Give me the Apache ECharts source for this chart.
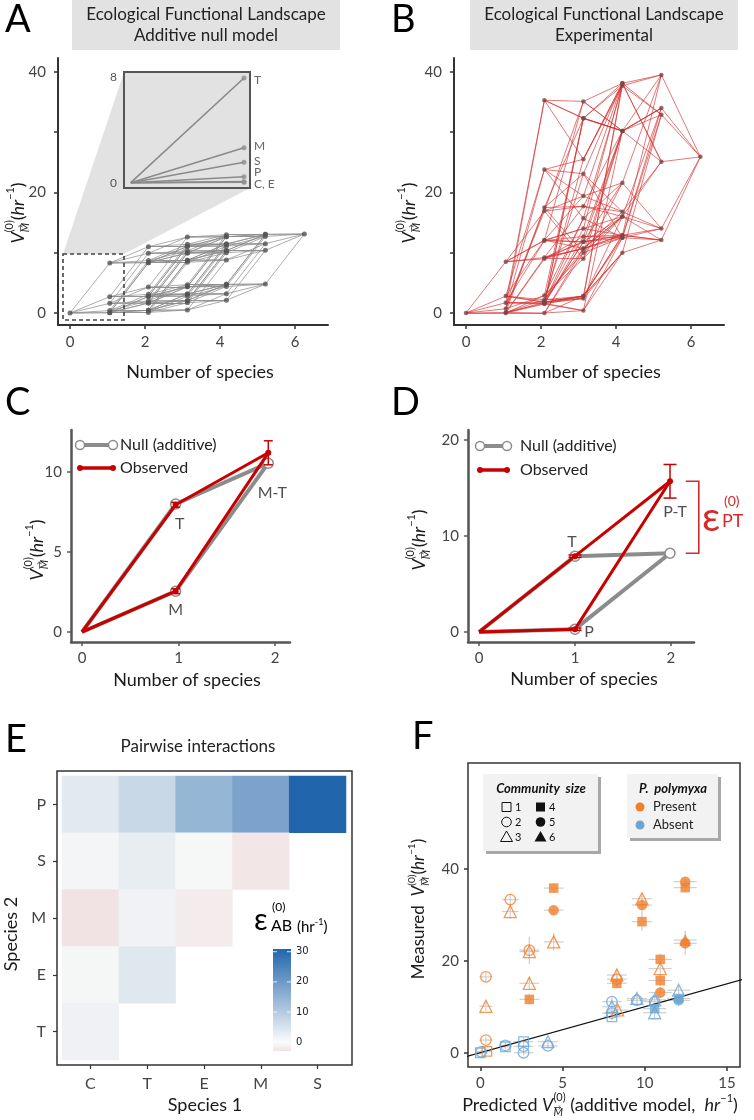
<!DOCTYPE html>
<html><head><meta charset="utf-8">
<script src="https://cdn.jsdelivr.net/npm/echarts@6/dist/echarts.min.js"></script>
<style>html,body{margin:0;padding:0;background:#fff}#c{width:754px;height:1120px}</style>
</head><body><div id="c"></div><script>
const FONT = 'Lato, "DejaVu Sans", sans-serif';
const RED = '#c80000', GRAY = '#8c8c8c', ORANGE = '#f07f2a', BLUE = '#6ca6d6';

// ---------- Panels A & B: functional landscape (community index = bitmask C1 E2 M4 P8 S16 T32)
const speciesBits = ['C', 'E', 'M', 'P', 'S', 'T'];
const xPosBySize = [0, 1.06, 2.09, 3.13, 4.17, 5.21, 6.25];
const nullValues = [0,0.05,0.05,0.1,2.7,2.75,2.75,2.8,0.4,0.45,0.45,0.5,3.1,3.15,3.15,3.2,
  1.6,1.65,1.65,1.7,4.3,4.35,4.35,4.4,2.0,2.05,2.05,2.1,4.7,4.75,4.75,4.8,
  8.3,8.35,8.35,8.4,11.0,11.05,11.05,11.1,8.7,8.75,8.75,8.8,11.4,11.45,11.45,11.5,
  9.9,9.95,9.95,10.0,12.6,12.65,12.65,12.7,10.3,10.35,10.35,10.4,13.0,13.05,13.05,13.1];
const obsValues = [0,0.0,0.1,0.0,2.8,1.8,2.2,2.8,0.7,2.9,17.5,10.0,23.8,15.7,23.1,12.5,
  1.7,1.5,1.6,0.4,1.8,2.8,2.4,10.0,35.3,32.3,32.3,30.2,25.5,37.7,38.1,32.9,
  8.5,9.0,9.2,10.7,12.1,11.8,10.7,12.9,16.9,9.0,17.7,16.0,19.4,21.6,16.8,14.0,
  12.0,12.7,11.8,12.5,14.0,12.9,16.0,12.1,35.1,30.2,30.2,34.0,38.1,39.5,25.1,25.9];
const aXTicks = [0, 2, 4, 6];
const aYTicks = [0, 10, 20, 30, 40];
const aYLabels = [0, 20, 40];
// inset (monocultures)
const insetSpecies = ['T', 'M', 'S', 'P', 'C', 'E'];
const insetValues = [7.9, 2.64, 1.54, 0.45, 0.08, 0.04];
const insetTicks = [0, 8];

// ---------- Panel C
const cNames = ['', 'T', 'M-T', 'M', ''];
const cX = [0, 0.97, 1.93, 0.97, 0];
const cNullY = [0, 8.0, 10.55, 2.55, 0];
const cObsY = [0, 7.95, 11.2, 2.55, 0];
const cObsErr = [0, 0.15, 0.75, 0.15, 0];
const cXTicks = [0, 1, 2], cYTicks = [0, 5, 10];
// ---------- Panel D
const dNames = ['', 'T', 'P-T', 'P', ''];
const dX = [0, 1.0, 1.99, 1.0, 0];
const dNullY = [0, 7.9, 8.2, 0.3, 0];
const dObsY = [0, 7.9, 15.7, 0.3, 0];
const dObsErr = [0, 0.12, 1.75, 0.12, 0];
const dXTicks = [0, 1, 2], dYTicks = [0, 10, 20];
const dEpsilon = [8.2, 15.7];
// ---------- Panel E
const heatCols = ['C', 'T', 'E', 'M', 'S'];
const heatRows = ['T', 'E', 'M', 'S', 'P'];
const heatCells = [
  ['C','P',2.9],['T','P',6.7],['E','P',14.0],['M','P',18.0],['S','P',31.5],
  ['C','S',0.4],['T','S',2.2],['E','S',0.1],['M','S',-2.4],
  ['C','M',-2.9],['T','M',1.0],['E','M',-1.7],
  ['C','E',0.3],['T','E',3.3],
  ['C','T',1.2]];
const colorbarTicks = [0, 10, 20, 30];
// ---------- Panel F
const fPredicted = [0.4,0.34,0.34,0.34,1.82,1.82,2.98,2.98,2.98,2.98,4.46,4.46,4.46,8.3,8.3,8.35,8.3,9.83,9.83,9.83,10.94,10.94,10.94,10.94,12.46,12.46,12.46,12.46,
  0.0,0.05,1.52,1.52,2.63,2.63,2.63,4.11,4.11,8.0,8.0,8.0,8.0,9.52,9.52,10.6,10.6,10.6,10.6,12.06,12.06,12.06];
const fMeasured = [0.3,16.5,2.75,10.1,33.3,30.7,22.3,22.0,15.1,11.6,35.8,31.0,24.1,16.9,15.1,9.3,16.0,33.5,32.1,28.5,20.3,18.3,15.7,13.1,37.2,35.9,24.5,23.8,
  0.0,0.2,1.3,1.6,2.4,1.4,0.0,1.5,2.4,11.1,10.0,7.8,8.6,11.8,11.4,11.1,11.5,8.7,9.6,13.6,11.4,11.8];
const fSize = [1,2,2,3,2,3,2,3,3,4,4,5,3,3,4,3,2,3,5,4,4,3,4,5,5,4,6,5,
  1,2,1,2,1,2,2,2,3,2,3,1,2,3,2,2,3,3,4,3,5,4];
const fHasP = [1,1,1,1,1,1,1,1,1,1,1,1,1,1,1,1,1,1,1,1,1,1,1,1,1,1,1,1,
  0,0,0,0,0,0,0,0,0,0,0,0,0,0,0,0,0,0,0,0,0,0];
const fErrX = [0.3,0.4,0.4,0.4,0.5,0.5,0.6,0.6,0.6,0.6,0.6,0.6,0.6,0.6,0.6,0.6,0.6,0.6,0.6,0.6,0.7,0.7,0.7,0.7,0.7,0.7,0.7,0.7,
  0.3,0.3,0.4,0.4,0.6,0.6,0.6,0.6,0.6,0.6,0.6,0.5,0.6,0.6,0.6,0.7,0.7,0.7,0.7,0.7,0.7,0.7];
const fErrY = [0.6,1.0,0.8,1.0,1.2,1.5,3.0,1.5,1.2,1.2,1.0,1.0,2.0,1.2,1.2,1.0,1.2,1.2,2.0,2.0,1.2,2.0,1.2,1.2,1.0,1.0,2.0,2.5,
  0.4,0.4,0.6,0.6,0.8,0.8,0.6,0.6,0.6,1.0,1.5,0.8,1.0,1.0,1.0,1.0,1.0,1.2,1.2,1.0,1.2,1.0];
const fXTicks = [0, 5, 10, 15], fYTicks = [0, 20, 40];
const identityLine = [[-1, -1], [17, 17]];

// ---------- helpers
function popcount(i){ let c = 0; while (i) { c += i & 1; i >>= 1; } return c; }
function edges(vals){
  const out = [];
  for (let i = 0; i < 64; i++) for (let b = 0; b < speciesBits.length; b++) {
    if (!(i & (1 << b))) { const j = i | (1 << b);
      out.push({ coords: [[xPosBySize[popcount(i)], vals[i]], [xPosBySize[popcount(j)], vals[j]]] }); }
  }
  return out;
}
function nodes(vals){ return vals.map((v, i) => [xPosBySize[popcount(i)], v]); }
const mctx = document.createElement('canvas').getContext('2d');
function fontStr(s, it, b){ return (it ? 'italic ' : '') + (b ? 'bold ' : '') + s + 'px ' + FONT; }
function tw(t, s, it, b){ mctx.font = fontStr(s, it, b); return mctx.measureText(t).width; }
function txt(t, x, y, s, o){
  o = o || {};
  return { type: 'text', x, y, z: 20, rotation: o.rot || 0, style: { text: t, font: fontStr(s, o.it, o.b), fill: o.color || '#1a1a1a',
    textAlign: o.align || 'left', align: o.align || 'left', textVerticalAlign: 'middle', verticalAlign: 'middle' } };
}
function mathGroup(parts, x, y, rot, color, anchor){
  let cx = 0, stackW = 0; const kids = [];
  parts.forEach(p => {
    const [t, s, it, dy, stack] = p;
    const w = tw(t, s, it);
    kids.push({ type: 'text', x: cx, y: dy, style: { text: t, font: fontStr(s, it), fill: color,
      textAlign: 'left', align: 'left', textVerticalAlign: 'middle', verticalAlign: 'middle' } });
    if (stack) stackW = Math.max(stackW, w); else { cx += Math.max(w, stackW); stackW = 0; }
  });
  const off = anchor === 'center' ? -cx / 2 : (anchor === 'right' ? -cx : 0);
  kids.forEach(k => { k.x += off; });
  return { type: 'group', x, y, rotation: rot || 0, children: kids, z: 20 };
}
function vParts(s){
  return [['V', s, true, 0], ['(0)', s * 0.6, false, -s * 0.45, true], ['\u2192', s * 0.45, false, s * 0.12, true],
          ['M', s * 0.6, true, s * 0.42], ['(', s, false, 0], ['hr', s, true, 0], ['\u22121', s * 0.6, false, -s * 0.42], [')', s, false, 0]];
}
function valAxis(gi, min, max, ticks, labels, o){
  o = o || {};
  const lc = o.lc || '#333';
  return { gridIndex: gi, type: 'value', min, max,
    axisLine: { show: o.line !== false, onZero: false, lineStyle: { color: lc, width: o.lw || 2 } },
    axisTick: { show: true, customValues: ticks, length: 4, lineStyle: { color: lc, width: 1.5 } },
    axisLabel: { show: true, customValues: labels, margin: o.margin || 10, fontSize: o.fs || 15, color: '#444', fontFamily: FONT },
    splitLine: { show: false } };
}
function errBar(color, half, lw){
  return function(params, api){
    const x = api.value(0), y = api.value(1), e = api.value(2);
    if (!e) return null;
    const t = api.coord([x, y + e]), b = api.coord([x, y - e]);
    const st = { stroke: color, lineWidth: lw };
    return { type: 'group', children: [
      { type: 'line', shape: { x1: t[0], y1: t[1], x2: b[0], y2: b[1] }, style: st },
      { type: 'line', shape: { x1: t[0] - half, y1: t[1], x2: t[0] + half, y2: t[1] }, style: st },
      { type: 'line', shape: { x1: b[0] - half, y1: b[1], x2: b[0] + half, y2: b[1] }, style: st } ] };
  };
}
function pathData(xs, ys, names, symOpt){
  return xs.map((x, i) => names[i] ? Object.assign({ value: [x, ys[i]] }, symOpt) : { value: [x, ys[i]], symbol: 'none' });
}
function labelData(xs, ys, names, offsets){
  const out = [];
  names.forEach((n, i) => { if (n) out.push({ value: [xs[i], ys[i]], name: n, label: { offset: offsets[n] } }); });
  return out;
}

// ---------- series
const series = [];
// A
series.push({ type: 'lines', coordinateSystem: 'cartesian2d', xAxisIndex: 0, yAxisIndex: 0, silent: true,
  data: edges(nullValues), lineStyle: { color: '#8a8a8a', width: 1, opacity: 0.7 }, z: 2 });
series.push({ type: 'scatter', xAxisIndex: 0, yAxisIndex: 0, data: nodes(nullValues), symbolSize: 5,
  itemStyle: { color: '#555' }, z: 3 });
// A inset
series.push({ type: 'lines', coordinateSystem: 'cartesian2d', xAxisIndex: 1, yAxisIndex: 1, silent: true,
  data: insetValues.map(v => ({ coords: [[0, 0], [1, v]] })), lineStyle: { color: '#8a8a8a', width: 1.6, opacity: 1 }, z: 4 });
series.push({ type: 'scatter', xAxisIndex: 1, yAxisIndex: 1, data: insetValues.map(v => [1, v]), symbolSize: 5,
  itemStyle: { color: '#8f8f8f' }, z: 5 });
// B
series.push({ type: 'lines', coordinateSystem: 'cartesian2d', xAxisIndex: 2, yAxisIndex: 2, silent: true,
  data: edges(obsValues), lineStyle: { color: '#d63030', width: 1, opacity: 0.65 }, z: 2 });
series.push({ type: 'scatter', xAxisIndex: 2, yAxisIndex: 2, data: nodes(obsValues), symbolSize: 4.5,
  itemStyle: { color: '#7b4646' }, z: 3 });
// C
series.push({ type: 'line', xAxisIndex: 3, yAxisIndex: 3, data: pathData(cX, cNullY, cNames, { symbol: 'circle', symbolSize: 10 }),
  lineStyle: { color: GRAY, width: 4 }, itemStyle: { color: '#fff', borderColor: GRAY, borderWidth: 1.5 }, z: 3 });
series.push({ type: 'line', xAxisIndex: 3, yAxisIndex: 3, data: pathData(cX, cObsY, cNames, { symbol: 'circle', symbolSize: 6 }),
  lineStyle: { color: RED, width: 3 }, itemStyle: { color: RED }, z: 4 });
series.push({ type: 'custom', xAxisIndex: 3, yAxisIndex: 3, data: cX.map((x, i) => [x, cObsY[i], cObsErr[i]]),
  renderItem: errBar(RED, 4.5, 1.5), z: 5, silent: true });
series.push({ type: 'scatter', xAxisIndex: 3, yAxisIndex: 3, symbolSize: 0, silent: true, z: 6,
  data: labelData(cX, cObsY, cNames, { 'T': [4, 19], 'M': [0, 19], 'M-T': [4, 40] }),
  label: { show: true, formatter: '{b}', fontSize: 16, color: '#222', fontFamily: FONT } });
// D
series.push({ type: 'line', xAxisIndex: 4, yAxisIndex: 4, data: pathData(dX, dNullY, dNames, { symbol: 'circle', symbolSize: 10 }),
  lineStyle: { color: GRAY, width: 4 }, itemStyle: { color: '#fff', borderColor: GRAY, borderWidth: 1.5 }, z: 3 });
series.push({ type: 'line', xAxisIndex: 4, yAxisIndex: 4, data: pathData(dX, dObsY, dNames, { symbol: 'circle', symbolSize: 6 }),
  lineStyle: { color: RED, width: 3 }, itemStyle: { color: RED }, z: 4 });
series.push({ type: 'custom', xAxisIndex: 4, yAxisIndex: 4, data: dX.map((x, i) => [x, dObsY[i], dObsErr[i]]),
  renderItem: errBar(RED, 6.5, 1.5), z: 5, silent: true });
series.push({ type: 'scatter', xAxisIndex: 4, yAxisIndex: 4, symbolSize: 0, silent: true, z: 6,
  data: labelData(dX, dObsY, dNames, { 'T': [-3, -14], 'P-T': [5, 31], 'P': [14, 3] }),
  label: { show: true, formatter: '{b}', fontSize: 16, color: '#222', fontFamily: FONT } });
series.push({ type: 'custom', xAxisIndex: 4, yAxisIndex: 4, data: [[2.29, dEpsilon[0], dEpsilon[1]]], clip: false, silent: true, z: 6,
  renderItem: function(params, api){
    const a = api.coord([api.value(0), api.value(1)]), b = api.coord([api.value(0), api.value(2)]);
    return { type: 'polyline', shape: { points: [[a[0] - 13, a[1]], [a[0], a[1]], [b[0], b[1]], [b[0] - 13, b[1]]] },
      style: { stroke: '#d42a2a', lineWidth: 1.6, fill: null } };
  } });
// E
const heatSeriesIndex = series.length;
series.push({ type: 'heatmap', xAxisIndex: 5, yAxisIndex: 5,
  data: heatCells.map(c => [heatCols.indexOf(c[0]), heatRows.indexOf(c[1]), c[2]]), itemStyle: { borderWidth: 0 } });
// F
series.push({ type: 'custom', xAxisIndex: 6, yAxisIndex: 6, silent: true, z: 2,
  data: fPredicted.map((x, i) => [x, fMeasured[i], fErrX[i], fErrY[i]]),
  renderItem: function(params, api){
    const x = api.value(0), y = api.value(1), ex = api.value(2), ey = api.value(3);
    const l = api.coord([x - ex, y]), r = api.coord([x + ex, y]), t = api.coord([x, y + ey]), b = api.coord([x, y - ey]);
    const st = { stroke: '#cfcfcf', lineWidth: 1.2 };
    return { type: 'group', children: [
      { type: 'line', shape: { x1: l[0], y1: l[1], x2: r[0], y2: r[1] }, style: st },
      { type: 'line', shape: { x1: t[0], y1: t[1], x2: b[0], y2: b[1] }, style: st } ] };
  } });
series.push({ type: 'line', xAxisIndex: 6, yAxisIndex: 6, data: identityLine, symbol: 'none', clip: true,
  lineStyle: { color: '#111', width: 1.2 }, z: 3 });
const shapeBySize = { 1: 'rect', 2: 'circle', 3: 'triangle', 4: 'rect', 5: 'circle', 6: 'triangle' };
series.push({ type: 'scatter', xAxisIndex: 6, yAxisIndex: 6, z: 4,
  data: fPredicted.map((x, i) => {
    const s = fSize[i], col = fHasP[i] ? ORANGE : BLUE, sym = shapeBySize[s];
    const size = sym === 'triangle' ? 12 : (sym === 'rect' ? 9.5 : 10.5);
    return { value: [x, fMeasured[i]], symbol: sym, symbolSize: size,
      itemStyle: s >= 4 ? { color: col } : { color: 'rgba(255,255,255,0)', borderColor: col, borderWidth: 1.3 } };
  }) });

// ---------- graphics
const G = [];
const rect = (x, y, w, h, st, z) => ({ type: 'rect', shape: { x, y, width: w, height: h }, style: st, z: z || 1 });
// panel letters
[['A', 5, 20], ['B', 391, 20], ['C', 5, 403], ['D', 391, 403], ['E', 5, 740], ['F', 412, 737]].forEach(l => G.push(txt(l[0], l[1], l[2], 38, { color: '#000' })));
// A/B titles
G.push(rect(72, 0, 268, 50, { fill: '#e2e2e2' }));
G.push(rect(470, 0, 268, 50, { fill: '#e2e2e2' }));
G.push(txt('Ecological Functional Landscape', 206, 15, 17, { align: 'center', color: '#222' }));
G.push(txt('Additive null model', 206, 36, 17, { align: 'center', color: '#222' }));
G.push(txt('Ecological Functional Landscape', 604, 15, 17, { align: 'center', color: '#222' }));
G.push(txt('Experimental', 604, 36, 17, { align: 'center', color: '#222' }));
// zoom shading + dashed box
G.push({ type: 'polygon', shape: { points: [[63, 254], [124, 72], [250, 72], [250, 188], [124, 254]] }, style: { fill: '#e2e2e2' }, z: -5 });
G.push(rect(63, 254, 61, 66, { fill: null, stroke: '#444', lineWidth: 1.6, lineDash: [4, 3] }, 6));
// inset labels
[['T', 80], ['M', 146], ['S', 161], ['P', 172], ['C, E', 184]].forEach(l => G.push(txt(l[0], 254, l[1], 12, { color: '#666' })));
// axis titles
G.push(txt('Number of species', 200, 372, 18, { align: 'center' }));
G.push(txt('Number of species', 587, 372, 18, { align: 'center' }));
G.push(txt('Number of species', 187, 680, 18, { align: 'center' }));
G.push(txt('Number of species', 584, 679, 18, { align: 'center' }));
G.push(mathGroup(vParts(18), 18, 213, Math.PI / 2, '#1a1a1a', 'center'));
G.push(mathGroup(vParts(18), 409, 213, Math.PI / 2, '#1a1a1a', 'center'));
G.push(mathGroup(vParts(18), 37, 550, Math.PI / 2, '#1a1a1a', 'center'));
G.push(mathGroup(vParts(18), 419, 540, Math.PI / 2, '#1a1a1a', 'center'));
// C / D legends
function legendCD(x1, x2, yN, yO, tx){
  G.push({ type: 'line', shape: { x1, y1: yN, x2, y2: yN }, style: { stroke: GRAY, lineWidth: 4 }, z: 10 });
  [x1, x2].forEach(x => G.push({ type: 'circle', shape: { cx: x, cy: yN, r: 4.5 }, style: { fill: '#fff', stroke: GRAY, lineWidth: 1.5 }, z: 11 }));
  G.push({ type: 'line', shape: { x1, y1: yO, x2, y2: yO }, style: { stroke: RED, lineWidth: 3.5 }, z: 10 });
  [x1, x2].forEach(x => G.push({ type: 'circle', shape: { cx: x, cy: yO, r: 3 }, style: { fill: RED }, z: 11 }));
  G.push(txt('Null (additive)', tx, yN, 16, { color: '#222' }));
  G.push(txt('Observed', tx, yO, 16, { color: '#222' }));
}
legendCD(80, 113, 445, 468, 120);
legendCD(480, 507, 446, 470, 520);
// epsilon PT
G.push(txt('\u03B5', 702, 518, 40, { color: '#d42a2a' }));
G.push(txt('(0)', 724, 501, 14, { color: '#d42a2a' }));
G.push(txt('PT', 722, 521, 18, { color: '#d42a2a' }));
// E
G.push(txt('Pairwise interactions', 198, 747, 17, { align: 'center', color: '#222' }));
G.push(rect(57, 771, 295, 294, { fill: null, stroke: '#333', lineWidth: 1.5 }, 8));
G.push(txt('Species 1', 205, 1105, 18, { align: 'center' }));
G.push(txt('Species 2', 11, 934, 18, { align: 'center', rot: Math.PI / 2 }));
const cbTop = 949, cbBot = 1051, cbMin = -2.9, cbMax = 30.9;
const cbY = v => cbBot - (v - cbMin) / (cbMax - cbMin) * (cbBot - cbTop);
G.push({ type: 'rect', shape: { x: 273, y: cbTop, width: 18, height: cbBot - cbTop }, z: 8,
  style: { fill: { type: 'linear', x: 0, y: 0, x2: 0, y2: 1, colorStops: [
    { offset: 0, color: '#2166ac' }, { offset: (cbMax - 0) / (cbMax - cbMin), color: '#fbfbfb' }, { offset: 1, color: '#f2e1e3' }] } } });
colorbarTicks.forEach(v => {
  const y = cbY(v);
  if (v > 0) {
    G.push({ type: 'line', shape: { x1: 273, y1: y, x2: 277, y2: y }, style: { stroke: 'rgba(255,255,255,0.8)', lineWidth: 1 }, z: 9 });
    G.push({ type: 'line', shape: { x1: 287, y1: y, x2: 291, y2: y }, style: { stroke: 'rgba(255,255,255,0.8)', lineWidth: 1 }, z: 9 });
  }
  G.push({ type: 'text', x: 296, y, z: 20, style: { text: String(v), font: '10px "DejaVu Sans"', fill: '#222', textVerticalAlign: 'middle', verticalAlign: 'middle' } });
});
G.push(txt('\u03B5', 254, 920, 30, { color: '#000' }));
G.push(txt('(0)', 272, 907, 12, { color: '#000' }));
G.push(txt('AB', 271, 926, 16, { color: '#000' }));
G.push(mathGroup([['(hr', 15, false, 0], ['-1', 9, false, -5], [')', 15, false, 0]], 297, 927, 0, '#000', 'left'));
// F
G.push(mathGroup([['Measured  ', 17, false, 0]].concat(vParts(17)), 419, 909, Math.PI / 2, '#1a1a1a', 'center'));
G.push(mathGroup([['Predicted ', 18, false, 0], ['V', 18, true, 0], ['(0)', 11, false, -8, true], ['\u2192', 8, false, 2, true], ['M', 11, true, 7],
  [' (additive model,  ', 18, false, 0], ['hr', 18, true, 0], ['\u22121', 11, false, -7], [')', 18, false, 0]], 600, 1105, 0, '#1a1a1a', 'center'));
// F legends
G.push(rect(486, 777, 115, 77, { fill: '#a8a8a8' }, 9));
G.push(rect(483, 774, 115, 77, { fill: '#f2f2f2' }, 10));
G.push(txt('Community  size', 541, 789, 13, { align: 'center', it: true, b: true, color: '#111' }));
const legSym = (shape, filled, cx, cy) => {
  const st = filled ? { fill: '#111' } : { fill: null, stroke: '#111', lineWidth: 1 };
  if (shape === 'rect') return { type: 'rect', shape: { x: cx - 4.5, y: cy - 4.5, width: 9, height: 9 }, style: st, z: 11 };
  if (shape === 'circle') return { type: 'circle', shape: { cx, cy, r: 4.8 }, style: st, z: 11 };
  return { type: 'polygon', shape: { points: [[cx, cy - 6], [cx + 6, cy + 4.5], [cx - 6, cy + 4.5]] }, style: st, z: 11 };
};
[[1, 'rect', 807], [2, 'circle', 822], [3, 'triangle', 837]].forEach(r => {
  G.push(legSym(r[1], false, 506.5, r[2])); G.push(txt(String(r[0]), 515, r[2], 11, { color: '#111' }));
  G.push(legSym(r[1], true, 540.5, r[2])); G.push(txt(String(r[0] + 3), 549, r[2], 11, { color: '#111' }));
});
G.push(rect(630, 777, 91, 64, { fill: '#a8a8a8' }, 9));
G.push(rect(627, 774, 91, 64, { fill: '#f2f2f2' }, 10));
G.push(txt('P.  polymyxa', 673, 789, 13, { align: 'center', it: true, b: true, color: '#111' }));
G.push({ type: 'circle', shape: { cx: 640, cy: 807, r: 4.5 }, style: { fill: ORANGE }, z: 11 });
G.push({ type: 'circle', shape: { cx: 640, cy: 825, r: 4.5 }, style: { fill: BLUE }, z: 11 });
G.push(txt('Present', 653, 807, 13, { color: '#222' }));
G.push(txt('Absent', 653, 825, 13, { color: '#222' }));

const catAxis = (data) => ({ gridIndex: 5, type: 'category', data, offset: 5,
  axisLine: { show: false }, axisTick: { show: true, alignWithLabel: true, length: 4, lineStyle: { color: '#333', width: 1.2 } },
  axisLabel: { fontSize: 16, color: '#444', margin: 11, fontFamily: FONT }, splitLine: { show: false } });

const option = {
  animation: false,
  backgroundColor: '#fff',
  textStyle: { fontFamily: FONT },
  grid: [
    { left: 58, top: 58, width: 270, height: 267, outerBoundsMode: 'none' },
    { left: 124, top: 72, width: 126, height: 116, show: true, backgroundColor: '#e2e2e2', borderColor: '#555', borderWidth: 2, z: 1, outerBoundsMode: 'none' },
    { left: 454, top: 58, width: 270, height: 267, outerBoundsMode: 'none' },
    { left: 71, top: 430, width: 219, height: 212, outerBoundsMode: 'none' },
    { left: 468, top: 430, width: 226, height: 212, outerBoundsMode: 'none' },
    { left: 62, top: 776, width: 284, height: 284, outerBoundsMode: 'none' },
    { left: 468, top: 763, width: 272, height: 304, show: true, borderColor: '#333', borderWidth: 1.5, outerBoundsMode: 'none' }
  ],
  xAxis: [
    valAxis(0, -0.32, 6.88, aXTicks, aXTicks),
    { gridIndex: 1, type: 'value', min: -0.06, max: 1.053, show: false },
    valAxis(2, -0.32, 6.88, aXTicks, aXTicks),
    valAxis(3, -0.114, 2.155, cXTicks, cXTicks, { lc: '#555', lw: 2.5, margin: 9 }),
    valAxis(4, -0.115, 2.24, dXTicks, dXTicks, { lc: '#555', lw: 2.5, margin: 9 }),
    catAxis(heatCols),
    valAxis(6, -0.75, 15.79, fXTicks, fXTicks, { line: false, margin: 9 })
  ],
  yAxis: [
    valAxis(0, -1.99, 42.3, aYTicks, aYLabels, { margin: 12 }),
    { gridIndex: 1, type: 'value', min: -0.4, max: 8.35, axisLine: { show: false },
      axisTick: { show: true, customValues: insetTicks, length: 4, lineStyle: { color: '#555', width: 1.5 } },
      axisLabel: { customValues: insetTicks, margin: 7, fontSize: 12, color: '#555', fontFamily: FONT }, splitLine: { show: false } },
    valAxis(2, -1.99, 42.3, aYTicks, aYLabels, { margin: 12 }),
    valAxis(3, -0.625, 12.625, cYTicks, cYTicks, { lc: '#555', lw: 2.5, margin: 9 }),
    valAxis(4, -1.04, 21.04, dYTicks, dYTicks, { lc: '#555', lw: 2.5, margin: 9 }),
    catAxis(heatRows),
    valAxis(6, -3.1, 63, fYTicks, fYTicks, { line: false, margin: 9 })
  ],
  visualMap: { type: 'continuous', show: false, seriesIndex: heatSeriesIndex, min: -31, max: 31,
    inRange: { color: ['#b2182b', '#f7f7f7', '#2166ac'] } },
  series,
  graphic: { elements: G }
};
const chart = echarts.init(document.getElementById('c'), null, { renderer: 'canvas', width: 754, height: 1120 });
chart.setOption(option);
</script></body></html>
